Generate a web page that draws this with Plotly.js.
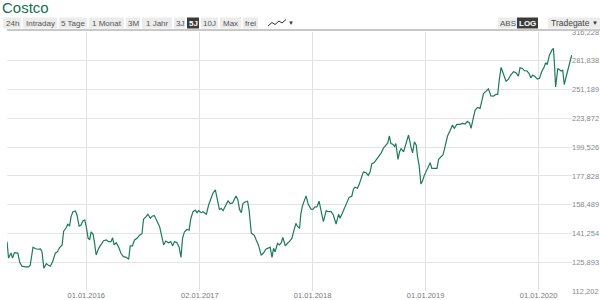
<!DOCTYPE html>
<html><head><meta charset="utf-8">
<script src="https://cdn.plot.ly/plotly-3.0.1.min.js"></script>
<style>html,body{margin:0;padding:0;background:#fff;overflow:hidden}#chart{width:600px;height:300px}</style>
</head><body><div id="chart"></div>
<script>
const dates = ["2015-04-20","2015-04-25","2015-05-03","2015-05-08","2015-05-14","2015-05-20","2015-05-25","2015-05-31","2015-06-07","2015-06-18","2015-06-29","2015-07-04",
"2015-07-13","2015-07-20","2015-07-28","2015-08-06","2015-08-11","2015-08-17","2015-08-25","2015-09-01","2015-09-07","2015-09-14","2015-09-23","2015-09-30",
"2015-10-07","2015-10-15","2015-10-20","2015-10-28","2015-11-02","2015-11-08","2015-11-13","2015-11-19","2015-11-27","2015-12-02","2015-12-09","2015-12-15","2015-12-21","2015-12-27",
"2016-01-01","2016-01-07","2016-01-12","2016-01-17","2016-01-23","2016-01-28","2016-02-02","2016-02-10","2016-02-17","2016-02-26","2016-03-06","2016-03-13","2016-03-21","2016-03-26","2016-03-31",
"2016-04-07","2016-04-14","2016-04-22","2016-04-30","2016-05-09","2016-05-17","2016-05-22","2016-05-29","2016-06-05","2016-06-13","2016-06-21","2016-06-29",
"2016-07-04","2016-07-12","2016-07-18","2016-07-26","2016-08-02","2016-08-08","2016-08-16","2016-08-25","2016-08-30",
"2016-09-07","2016-09-14","2016-09-23","2016-09-30","2016-10-06","2016-10-12","2016-10-20","2016-10-27","2016-11-02","2016-11-07","2016-11-13","2016-11-21","2016-11-28","2016-12-04","2016-12-11","2016-12-18","2016-12-24","2016-12-29",
"2017-01-06","2017-01-12","2017-01-17","2017-01-23","2017-01-30","2017-02-07","2017-02-13","2017-02-21","2017-02-26","2017-03-06","2017-03-12","2017-03-18","2017-03-25",
"2017-04-03","2017-04-10","2017-04-18","2017-04-23","2017-04-29","2017-05-05","2017-05-10","2017-05-16","2017-05-21","2017-05-28","2017-06-05","2017-06-10",
"2017-06-17","2017-06-22","2017-06-27","2017-07-03","2017-07-10","2017-07-19","2017-07-26","2017-08-03","2017-08-12","2017-08-17","2017-08-23","2017-08-28","2017-09-02","2017-09-10","2017-09-16","2017-09-22","2017-09-27","2017-10-05","2017-10-12","2017-10-18","2017-10-26",
"2017-11-03","2017-11-08","2017-11-13","2017-11-20","2017-11-24","2017-11-29","2017-12-06","2017-12-11","2017-12-18","2017-12-27",
"2018-01-02","2018-01-09","2018-01-15","2018-01-22","2018-01-29","2018-02-05","2018-02-14","2018-02-21","2018-03-02","2018-03-09","2018-03-18","2018-03-26","2018-03-31","2018-04-07","2018-04-14","2018-04-22","2018-04-29","2018-05-08","2018-05-13","2018-05-18","2018-05-26","2018-06-01","2018-06-07",
"2018-06-14","2018-06-22","2018-06-30","2018-07-06","2018-07-11","2018-07-19","2018-07-25","2018-08-02","2018-08-11","2018-08-18","2018-08-27","2018-09-01","2018-09-06","2018-09-11","2018-09-17","2018-09-23","2018-09-27",
"2018-10-04","2018-10-09","2018-10-14","2018-10-22","2018-10-27","2018-11-02","2018-11-07","2018-11-15","2018-11-20","2018-11-26","2018-12-02","2018-12-06","2018-12-11","2018-12-17","2018-12-22","2018-12-28",
"2019-01-05","2019-01-10","2019-01-16","2019-01-21","2019-01-29","2019-02-07","2019-02-12","2019-02-17","2019-02-26","2019-03-02","2019-03-07",
"2019-03-13","2019-03-21","2019-03-29","2019-04-04","2019-04-12","2019-04-23","2019-04-30","2019-05-09","2019-05-16","2019-05-23","2019-05-28","2019-06-03",
"2019-06-10","2019-06-18","2019-06-26","2019-07-02","2019-07-07","2019-07-15","2019-07-23","2019-07-31","2019-08-08","2019-08-16","2019-08-22",
"2019-08-27","2019-09-02","2019-09-07","2019-09-13","2019-09-18","2019-09-26","2019-10-03","2019-10-12","2019-10-20","2019-10-28","2019-11-02","2019-11-10","2019-11-16","2019-11-24","2019-12-01","2019-12-07","2019-12-13","2019-12-21","2019-12-28",
"2020-01-04","2020-01-11","2020-01-19","2020-01-24","2020-01-29","2020-02-05","2020-02-13","2020-02-18","2020-02-21","2020-02-25","2020-03-03","2020-03-08","2020-03-14","2020-03-19","2020-03-24","2020-03-30","2020-04-06","2020-04-12","2020-04-17"];

const prices = [136.7,128.0,130.6,128.0,130.8,130.6,130.6,126.0,123.9,123.6,123.6,124.4,
133.7,133.0,132.6,132.8,131.3,122.85,125.2,124.4,123.9,126.0,130.5,131.3,
133.5,134.9,142.5,144.5,146.5,145.5,151.1,154.1,154.5,152.1,145.5,146.1,148.5,149.1,
145.1,138.5,137.9,142.1,140.8,135.8,129.6,133.1,134.9,137.2,137.6,136.7,136.7,138.8,134.9,
136.1,134.0,130.5,128.7,128.4,127.4,134.4,134.4,137.6,138.5,140.2,141.1,
149.5,151.1,152.5,150.1,151.5,151.7,148.8,145.1,141.1,
134.9,137.0,136.1,136.7,134.4,136.7,136.1,133.7,128.3,138.5,142.1,143.5,143.1,150.1,154.1,155.1,153.5,154.7,
153.5,154.1,153.1,152.5,158.1,162.5,165.9,168.1,162.5,155.5,156.1,154.7,157.5,
160.9,159.2,159.6,161.8,164.1,161.4,155.5,153.5,159.2,160.2,160.7,155.1,
141.5,140.8,140.2,137.6,134.9,129.6,130.5,132.6,133.1,133.7,128.3,133.1,131.3,135.8,134.9,136.1,139.0,134.4,135.8,136.7,138.5,
143.1,147.1,145.5,144.1,152.5,157.5,161.4,164.1,158.7,155.7,
155.5,157.1,157.1,160.7,154.1,148.1,154.7,154.1,154.1,152.1,146.7,152.5,150.1,153.1,157.1,160.9,163.2,164.1,168.6,169.9,169.2,172.1,175.95,
180.7,180.2,178.2,180.7,186.5,187.5,189.5,192.5,195.0,198.8,201.0,202.9,208.6,202.4,201.8,200.1,202.4,
190.0,195.8,198.3,195.8,199.5,203.75,209.4,199.5,195.0,203.75,201.0,192.0,185.8,172.1,174.3,178.2,
181.9,184.0,187.5,183.2,183.2,183.2,190.0,191.0,193.3,197.0,203.5,
208.6,213.05,217.9,215.1,218.5,218.5,219.3,218.7,221.2,219.8,215.1,222.7,
231.4,233.9,233.0,240.2,247.2,249.4,252.0,244.9,244.6,246.3,246.3,
260.9,274.4,269.7,262.7,259.8,261.9,266.2,269.7,268.6,265.1,274.0,273.3,270.8,270.8,268.0,263.3,266.2,264.4,261.9,
262.7,269.7,275.0,279.7,277.6,288.2,294.1,296.2,280.3,253.7,273.3,272.3,270.5,271.5,256.3,264.4,273.3,281.4,288.2];

const yTickVals = [112.202,125.893,141.254,158.489,177.828,199.526,223.872,251.189,281.838,316.228];
const yTickText = ["112,202","125,893","141,254","158,489","177,828","199,526","223,872","251,189","281,838","316,228"];
const xTickVals = ["2016-01-01","2017-01-02","2018-01-01","2019-01-01","2020-01-01"];
const xTickText = ["01.01.2016","02.01.2017","01.01.2018","01.01.2019","01.01.2020"];
const periodButtons = ["24h","Intraday","5 Tage","1 Monat","3M","1 Jahr","3J","5J","10J","Max","frei"];
const selectedPeriod = "5J";
const scaleButtons = ["ABS","LOG"];
const selectedScale = "LOG";
const exchangeLabel = "Tradegate";
const chartTitle = "Costco";

if (dates.length !== prices.length) throw new Error("length mismatch " + dates.length + " vs " + prices.length);

// geometry (pixels)
const W = 600, H = 300, L = 7, R = 28, T = 32, B = 9;
const PW = W - L - R, PH = H - T - B;
const px = x => (x - L) / PW;
const py = y => (H - B - y) / PH;
const periodSpans = [[3,21],[23,57],[59,87],[89,124],[126,140],[142,172],[174,185],[187,199],[201,218],[220,241],[243,258]];
const scaleSpans = [[498,517],[517,538]];
const btnTop = 17.5, btnBot = 28.5, btnMid = (btnTop + btnBot) / 2;
const FONT = "Liberation Sans, Arial, sans-serif";

const shapes = [];
const annotations = [];
function button(label, span, selected) {
  shapes.push({type:"rect", xref:"paper", yref:"paper", x0:px(span[0]), x1:px(span[1]), y0:py(btnBot), y1:py(btnTop),
    fillcolor: selected ? "#3b3b3b" : "#ececec", line:{width:0}});
  annotations.push({xref:"paper", yref:"paper", x:px((span[0]+span[1])/2), y:py(btnMid), xanchor:"center", yanchor:"middle",
    text: selected ? "<b>"+label+"</b>" : label, showarrow:false, borderpad:0,
    font:{family:FONT, size:8, color: selected ? "#ffffff" : "#555555"}});
}
periodButtons.forEach((b,i) => button(b, periodSpans[i], b === selectedPeriod));
scaleButtons.forEach((b,i) => button(b, scaleSpans[i], b === selectedScale));
// exchange selector
shapes.push({type:"rect", xref:"paper", yref:"paper", x0:px(548), x1:px(600), y0:py(btnBot), y1:py(btnTop), fillcolor:"#ececec", line:{width:0}});
annotations.push({xref:"paper", yref:"paper", x:px(550), y:py(btnMid), xanchor:"left", yanchor:"middle", text:exchangeLabel, showarrow:false, borderpad:0,
  font:{family:FONT, size:8.5, color:"#444"}});
annotations.push({xref:"paper", yref:"paper", x:px(594.5), y:py(btnMid), xanchor:"center", yanchor:"middle", text:"▼", showarrow:false, borderpad:0,
  font:{family:FONT, size:6, color:"#333"}});
// chart-type icon
const zig = [[268,26],[272,22.5],[275,24.5],[279,21],[282,23],[286,19.5]];
shapes.push({type:"path", xref:"paper", yref:"paper",
  path: zig.map((p,i) => (i ? "L" : "M") + px(p[0]) + "," + py(p[1])).join(" "), line:{color:"#333", width:1}});
annotations.push({xref:"paper", yref:"paper", x:px(291), y:py(btnMid), xanchor:"center", yanchor:"middle", text:"▼", showarrow:false, borderpad:0,
  font:{family:FONT, size:6, color:"#333"}});
// separator under toolbar
shapes.push({type:"line", xref:"paper", yref:"paper", x0:px(7), x1:px(600), y0:py(30), y1:py(30), line:{color:"#c8c8c8", width:2}});

const trace = {x: dates, y: prices, type:"scatter", mode:"lines", line:{color:"#1d7a5c", width:1.2}, hoverinfo:"skip"};

const layout = {
  width: W, height: H,
  margin: {l:L, r:R, t:T, b:B, pad:0},
  paper_bgcolor:"#fff", plot_bgcolor:"#fff",
  showlegend:false,
  title: {text: chartTitle, x: 2/W, xanchor:"left", xref:"container", y: 1 - 2/H, yanchor:"top", yref:"container",
    font:{family:FONT, size:15, color:"#13704f"}, pad:{t:0,l:0,r:0,b:0}},
  xaxis: {type:"date", range:["2015-04-20","2020-04-18"], tickvals:xTickVals, ticktext:xTickText,
    showgrid:true, gridcolor:"#e0e0e0", gridwidth:1, zeroline:false, showline:false, ticks:"", ticklabelstandoff:-2,
    tickfont:{family:FONT, size:7.5, color:"#777"}, automargin:false, fixedrange:true},
  yaxis: {type:"log", range:[Math.log10(112.2), Math.log10(316.23)], side:"right", tickvals:yTickVals, ticktext:yTickText,
    showgrid:true, gridcolor:"#e4e4e4", gridwidth:1, zeroline:false, showline:false, ticks:"", ticklabelstandoff:-1,
    tickfont:{family:FONT, size:7.5, color:"#888"}, automargin:false, fixedrange:true},
  shapes: shapes,
  annotations: annotations
};

Plotly.newPlot("chart", [trace], layout, {staticPlot:true, displayModeBar:false});
</script>
</body></html>
